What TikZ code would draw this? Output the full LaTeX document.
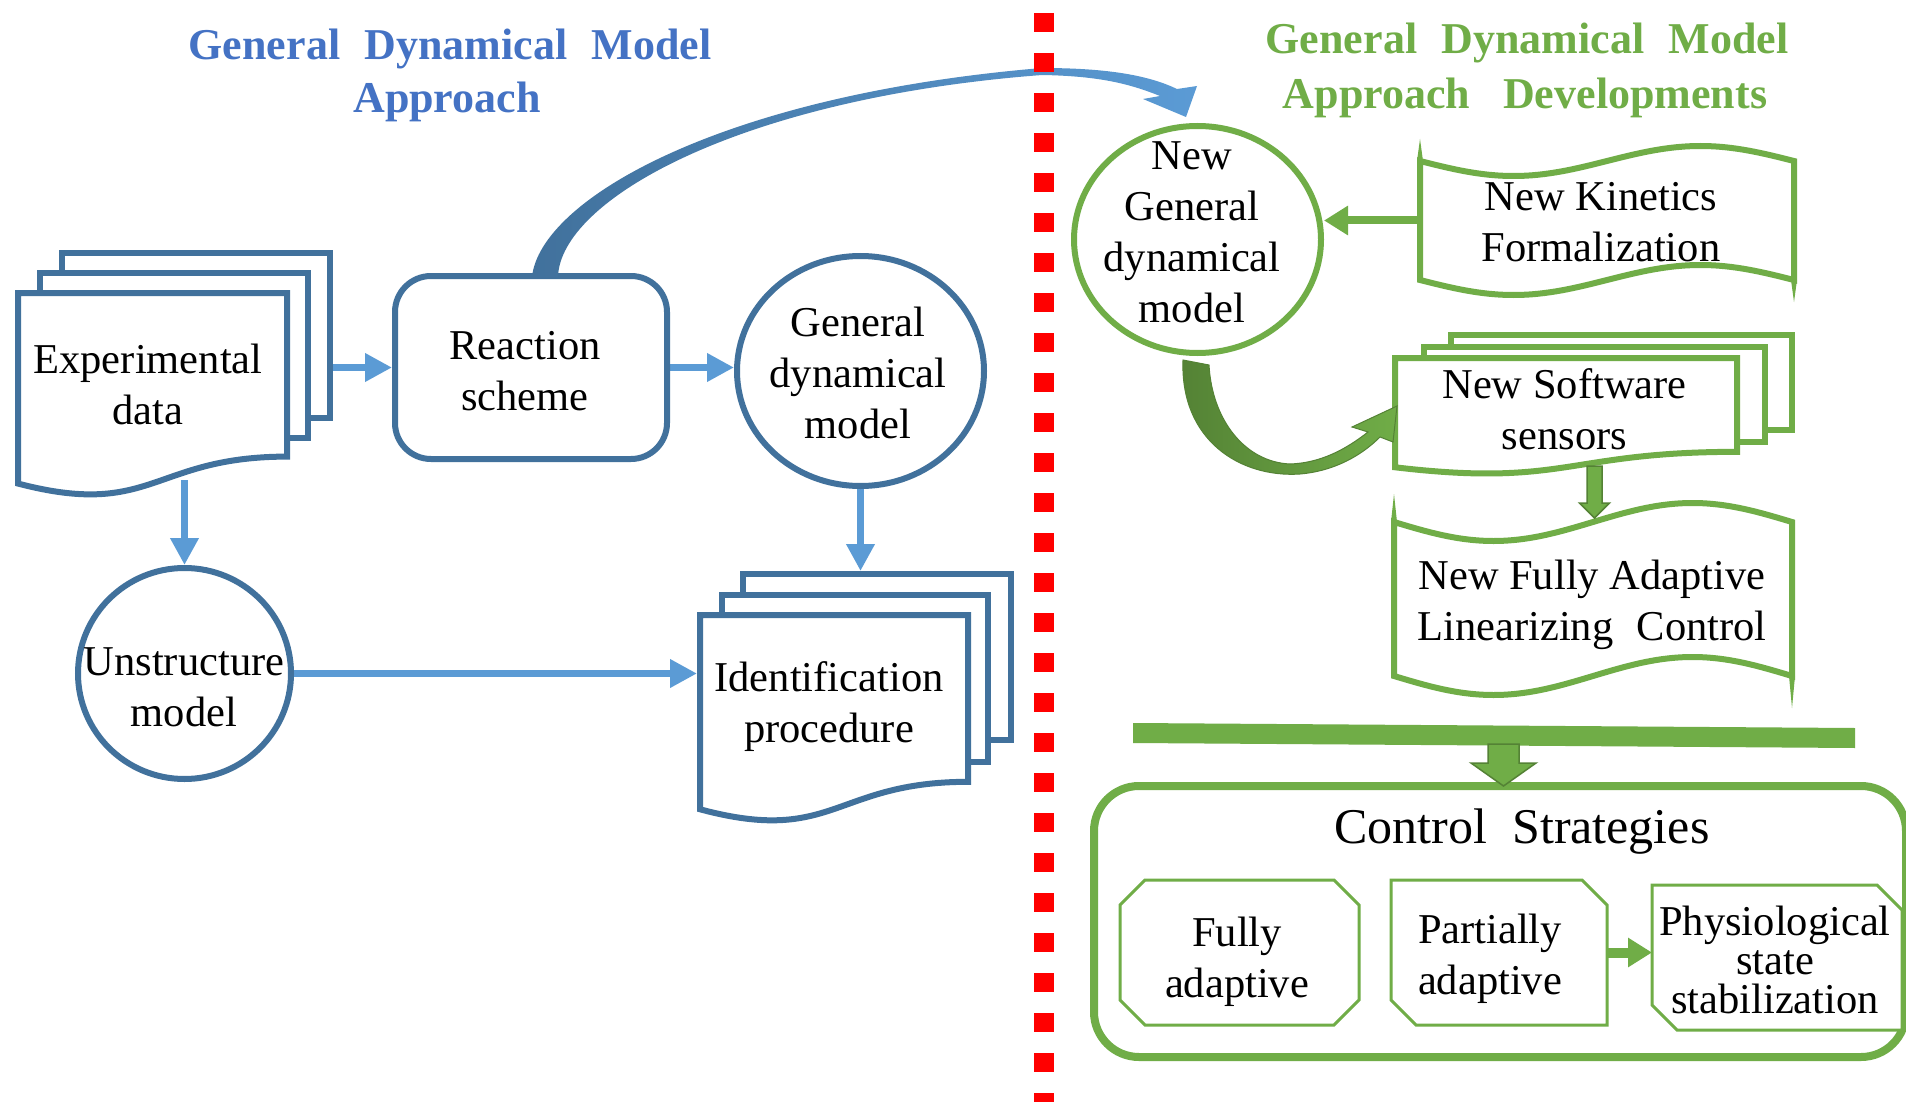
\documentclass[tikz,border=0pt]{standalone}
\usepackage{fontspec}
\setmainfont{Liberation Serif}
\usetikzlibrary{arrows.meta,shapes.geometric,calc}
\definecolor{dblue}{HTML}{41719C}
\definecolor{lblue}{HTML}{5B9BD5}
\definecolor{tblue}{HTML}{4472C4}
\definecolor{gr}{HTML}{70AD47}
\definecolor{dgr}{HTML}{548235}
\pgfdeclarelayer{bg}
\pgfsetlayers{bg,main}
\newcommand{\docshape}[5]{\path[#1] (#2,#3) -- ({#2+#4},#3) -- ({#2+#4},{#3+0.802*#5}) .. controls ({#2+0.5*#4},{#3+0.802*#5}) and ({#2+0.5*#4},{#3+1.107*#5}) .. (#2,{#3+0.934*#5}) -- cycle;}
\newcommand{\tapeshape}[6]{\path[#1] (#2,#4) sin ({#2+0.25*(#3-#2)},{#4+#6}) cos ({0.5*(#2+#3)},#4) sin ({#2+0.75*(#3-#2)},{#4-#6}) cos (#3,#4) -- (#3,#5) sin ({#2+0.75*(#3-#2)},{#5-#6}) cos ({0.5*(#2+#3)},#5) sin ({#2+0.25*(#3-#2)},{#5+#6}) cos (#2,#5) -- cycle;}
\tikzset{
 box/.style={rectangle, inner sep=0pt, outer sep=0pt},
 txt/.style={align=center, inner sep=0pt, font=\fontsize{42.5pt}{51pt}\selectfont},
 ttl/.style={inner sep=0pt, anchor=base, font=\fontsize{44pt}{53pt}\selectfont\bfseries},
 ell/.style={ellipse, line width=6pt, fill=white, inner sep=0pt, outer sep=3pt},
 docst/.style={draw=dblue, line width=6pt, fill=white},
 gdocst/.style={draw=gr, line width=6pt, fill=white},
 gtape/.style={draw=gr, line width=6pt, fill=white},
 snip/.style={draw=gr, line width=3pt, fill=white},
 barr/.style={draw=lblue, line width=7pt, -{Triangle[length=27pt,width=27pt]}},
 garr/.style={draw=gr, line width=8pt, -{Triangle[length=24pt,width=28pt]}},
 garr2/.style={draw=gr, line width=10pt, -{Triangle[length=24pt,width=28pt]}},
 blk/.style={fill=gr, draw=dgr, line width=1.5pt, line join=miter},
 rnd/.style={rectangle, draw=dblue, line width=6pt, rounded corners=36pt, fill=white, inner sep=0pt, outer sep=3pt}
}
\begin{document}
\begin{tikzpicture}[x=1pt,y=-1pt]
\useasboundingbox (0,0) rectangle (1906,1102);
\clip (0,0) rectangle (1906,1102);

% ---------- titles ----------
\node[ttl, text=tblue] (t1a) at (450,60) {General\hspace{0.3em} Dynamical\hspace{0.3em} Model};
\node[ttl, text=tblue] (t1b) at (447,113) {Approach};
\node[ttl, text=gr] (t2a) at (1527,54) {General\hspace{0.3em} Dynamical\hspace{0.3em} Model};
\node[ttl, text=gr] (t2b) at (1525,109) {Approach\hspace{0.5em} Developments};

% ---------- left side ----------
\node[box, minimum width=318pt, minimum height=250pt] (exp) at (174,375) {};
\path[docst] (62,253) rectangle (330,418);
\path[docst] (40,273) rectangle (308,438);
\docshape{docst}{18}{293}{269}{204}
\node[txt] (expt) at (148,384) {Experimental\\data};

\node[rnd, minimum width=272pt, minimum height=183pt] (reac) at (531,367.5) {};
\node[txt] (react) at (525,371.5) {Reaction\\scheme};

\node[ell, draw=dblue, minimum width=247pt, minimum height=230pt] (gdm) at (860.5,371) {};
\node[txt] (gdmt) at (858,372.5) {General\\dynamical\\model};

\node[ell, draw=dblue, minimum width=213pt, minimum height=211pt] (unst) at (184.5,673.5) {};
\node[txt] (unstt) at (184,687) {Unstructure\\model};

\node[box, minimum width=317pt, minimum height=255pt] (ident) at (855.5,698.5) {};
\path[docst] (743,574) rectangle (1011,740);
\path[docst] (722,595) rectangle (988,762);
\docshape{docst}{700}{615}{268}{208}
\node[txt] (identt) at (829,706.5) {Identification\\procedure};

\coordinate (expb) at ($(unst.north)+(0,-85)$);

\begin{pgfonlayer}{bg}
\fill[white] (0,0) rectangle (1906,1102);
\draw[barr] (reac.west -| exp.east) -- (reac.west);
\draw[barr] (reac.east) -- (reac.east -| gdm.west);
\draw[barr] (expb) -- (unst.north);
\draw[barr] (gdm.south) -- (gdm.south |- ident.north);
\draw[barr] (unst.east) -- (unst.east -| ident.west);
\end{pgfonlayer}

% big curved blue arrow
\path[left color=dblue, right color=lblue] (532,277) .. controls (540,200) and (720,95) .. (1042,68) .. controls (1110,68) and (1150,76) .. (1177,89) -- (1197,86) -- (1186,117) -- (1143,99) -- (1160,96) .. controls (1130,84) and (1100,76) .. (1042,75) .. controls (740,98) and (560,200) .. (558,277) -- cycle;

% ---------- right side ----------
\node[ell, draw=gr, minimum width=247pt, minimum height=227pt] (ngdm) at (1197.5,239.5) {};
\node[txt] (ngdmt) at (1192,232) {New\\General\\dynamical\\model};

\node[box, minimum width=380pt, minimum height=149pt] (kin) at (1607,220.5) {};
\tapeshape{gtape}{1420}{1794}{161}{280}{15}
\path[fill=gr] (1417,161) -- (1423,161) -- (1420,139) -- cycle;
\path[fill=gr] (1791,280) -- (1797,280) -- (1794,302) -- cycle;
\node[txt] (kint) at (1601,222) {New Kinetics\\Formalization};
\draw[garr] (kin.west) -- (kin.west -| ngdm.east);

\node[box, minimum width=403pt, minimum height=143pt] (sens) at (1593.5,403.5) {};
\path[gdocst] (1451,335) rectangle (1792,430);
\path[gdocst] (1424,347) rectangle (1765,442);
\docshape{gdocst}{1395}{358}{342}{117}
\node[txt] (senst) at (1564.5,409) {New Software\\sensors};

% green curved arrow
\path[left color=dgr, right color=gr, draw=dgr, line width=1pt] (1183,360) .. controls (1180,440) and (1240,478) .. (1300,474) .. controls (1335,471) and (1362,455) .. (1380,437) -- (1393,442) -- (1397,406) -- (1352,427) -- (1368,432) .. controls (1345,450) and (1320,463) .. (1290,464) .. controls (1245,462) and (1212,420) .. (1209,365) -- cycle;

\node[box, minimum width=404pt, minimum height=194pt] (ada) at (1593,600) {};
\tapeshape{gtape}{1394}{1792}{522}{676}{19}
\path[fill=gr] (1391,522) -- (1397,522) -- (1394,494) -- cycle;
\path[fill=gr] (1789,676) -- (1795,676) -- (1792,708) -- cycle;
\node[txt] (adat) at (1592,604.5) {New Fully Adaptive\\Linearizing\hspace{0.3em} Control};

% block arrow sensors -> adaptive
\path[blk] (1587,466) -- (1602,466) -- (1602,503) -- (1609.5,503) -- (1594.5,518) -- (1579.5,503) -- (1587,503) -- cycle;

% bar
\path[fill=gr] (1133,723) -- (1855,728) -- (1855,748) -- (1133,743) -- cycle;

% control strategies
\node[rectangle, draw=gr, line width=8pt, rounded corners=45pt, inner sep=0pt, minimum width=812pt, minimum height=271pt] (ctrl) at (1500,921.5) {};
\node[txt, font=\fontsize{50pt}{60pt}\selectfont] (ctrlt) at (1522,831.5) {Control\hspace{0.25em} Strategies};

\path[blk] (1488,744) -- (1519,744) -- (1519,763) -- (1536,763) -- (1503.5,786) -- (1471,763) -- (1488,763) -- cycle;

\node[box, minimum width=239pt, minimum height=145pt] (fa) at (1239.5,952.5) {};
\path[snip] ($(fa.north west)+(25,0)$) -- ($(fa.north east)+(-25,0)$) -- ($(fa.north east)+(0,25)$) -- ($(fa.south east)+(0,-25)$) -- ($(fa.south east)+(-25,0)$) -- ($(fa.south west)+(25,0)$) -- ($(fa.south west)+(0,-25)$) -- ($(fa.north west)+(0,25)$) -- cycle;
\node[txt] (fat) at (1237,961.5) {Fully\\adaptive};

\node[box, minimum width=216pt, minimum height=145pt] (pa) at (1499,952.5) {};
\path[snip] (pa.north west) -- ($(pa.north east)+(-25,0)$) -- ($(pa.north east)+(0,25)$) -- (pa.south east) -- ($(pa.south west)+(25,0)$) -- ($(pa.south west)+(0,-25)$) -- cycle;
\node[txt] (pat) at (1490,958.5) {Partially\\adaptive};

\node[box, minimum width=250pt, minimum height=145pt] (ps) at (1777,957.5) {};
\path[snip] (ps.north west) -- ($(ps.north east)+(-25,0)$) -- ($(ps.north east)+(0,25)$) -- (ps.south east) -- ($(ps.south west)+(25,0)$) -- ($(ps.south west)+(0,-25)$) -- cycle;
\node[txt, font=\fontsize{42.5pt}{39pt}\selectfont] (pst) at (1775,959.5) {Physiological\\state\\stabilization};

\draw[garr2] (pa.east) -- (pa.east -| ps.west);

% red dashed separator
\draw[red, line width=20pt, dash pattern=on 19pt off 21pt] (1044,13) -- (1044,1102);
\end{tikzpicture}
\end{document}
